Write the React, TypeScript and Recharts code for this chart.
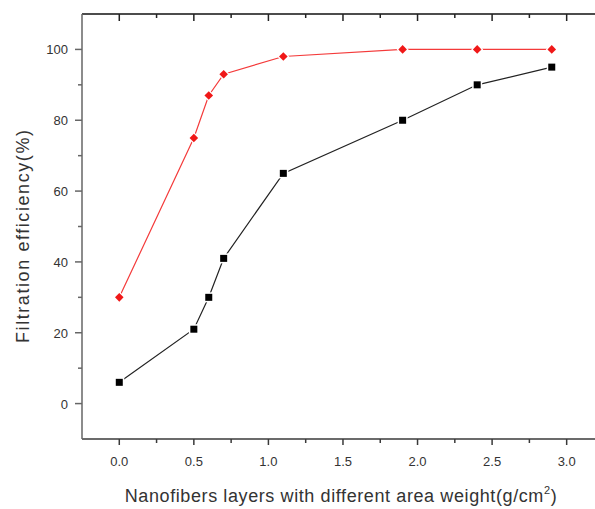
import React from "react";
import { LineChart, Line, XAxis, YAxis } from "recharts";

const areaWeight = [0, 0.5, 0.6, 0.7, 1.1, 1.9, 2.4, 2.9];
const seriesBlack = [6, 21, 30, 41, 65, 80, 90, 95];
const seriesRed = [30, 75, 87, 93, 98, 100, 100, 100];
const xTicks = [0, 0.25, 0.5, 0.75, 1, 1.25, 1.5, 1.75, 2, 2.25, 2.5, 2.75, 3];
const xMajor = [0, 0.5, 1, 1.5, 2, 2.5, 3];
const yTicks = [0, 10, 20, 30, 40, 50, 60, 70, 80, 90, 100];
const yMajor = [0, 20, 40, 60, 80, 100];
const xTitle = "Nanofibers layers with different area weight(g/cm";
const yTitle = "Filtration efficiency(%)";

const data = areaWeight.map((x, i) => ({ x, black: seriesBlack[i], red: seriesRed[i] }));

const FONT = "'Liberation Sans', Arial, sans-serif";
const AXIS = "#3a3a3a";

const isMajor = (list: number[], v: number) => list.some((m) => Math.abs(m - v) < 1e-9);

const BottomTick = (props: any) => {
  const { x, y, payload } = props;
  const major = isMajor(xMajor, payload.value);
  return (
    <g>
      <line x1={x} x2={x} y1={y} y2={y + (major ? 6 : 4)} stroke={AXIS} strokeWidth={1.5} />
      {major && (
        <text x={x} y={y + 27} textAnchor="middle" fontSize={13} fontFamily={FONT} fill="#333">
          {payload.value.toFixed(1)}
        </text>
      )}
    </g>
  );
};

const TopTick = (props: any) => {
  const { x, payload } = props;
  const major = isMajor(xMajor, payload.value);
  return <line x1={x} x2={x} y1={14} y2={14 + (major ? 7 : 4)} stroke="#222" strokeWidth={1.5} />;
};

const LeftTick = (props: any) => {
  const { x, y, payload } = props;
  const major = isMajor(yMajor, payload.value);
  return (
    <g>
      <line x1={x} x2={x - (major ? 7 : 4)} y1={y} y2={y} stroke="#666" strokeWidth={1.5} />
      {major && (
        <text x={x - 14} y={y + 5} textAnchor="end" fontSize={13} fontFamily={FONT} fill="#333">
          {payload.value}
        </text>
      )}
    </g>
  );
};

const Square = (props: any) => {
  const { cx, cy, index } = props;
  if (cx == null || cy == null) return <g key={`s${index}`} />;
  return (
    <g key={`s${index}`}>
      <rect x={cx - 5} y={cy - 5} width={10} height={10} fill="#fff" />
      <rect x={cx - 3.5} y={cy - 3.5} width={7} height={7} fill="#000" />
    </g>
  );
};

const Diamond = (props: any) => {
  const { cx, cy, index } = props;
  if (cx == null || cy == null) return <g key={`d${index}`} />;
  const r = 4.3;
  const R = 6;
  return (
    <g key={`d${index}`}>
      <polygon points={`${cx},${cy - R} ${cx + R},${cy} ${cx},${cy + R} ${cx - R},${cy}`} fill="#fff" />
      <polygon points={`${cx},${cy - r} ${cx + r},${cy} ${cx},${cy + r} ${cx - r},${cy}`} fill="#f01818" />
    </g>
  );
};

const XTitle = () => (
  <text x={341} y={502} textAnchor="middle" fontSize={18} fontFamily={FONT} fill="#333" letterSpacing={0.6}>
    {xTitle}
    <tspan dy={-8} fontSize={11}>2</tspan>
    <tspan dy={8}>)</tspan>
  </text>
);

const YTitle = () => (
  <text
    x={0}
    y={0}
    transform="translate(29,236.5) rotate(-90)"
    textAnchor="middle"
    fontSize={18}
    fontFamily={FONT}
    fill="#333"
    textLength={213}
    lengthAdjust="spacing"
  >
    {yTitle}
  </text>
);

export default function App() {
  return (
    <div style={{ position: "absolute", left: 0, top: 0, background: "#fff" }}>
      <LineChart width={595} height={509} data={data} margin={{ top: 4, right: 0, bottom: 0, left: 0 }}>
        <XAxis
          dataKey="x"
          type="number"
          domain={[-0.25, 3.19]}
          ticks={xTicks}
          interval={0}
          allowDataOverflow
          height={70}
          tickSize={0}
          tickMargin={0}
          tickLine={false}
          tick={<BottomTick />}
          axisLine={{ stroke: AXIS, strokeWidth: 1.5 }}
          label={<XTitle />}
        />
        <XAxis
          xAxisId="top"
          dataKey="x"
          type="number"
          orientation="top"
          domain={[-0.25, 3.19]}
          ticks={xTicks}
          interval={0}
          allowDataOverflow
          height={10}
          tickSize={0}
          tickMargin={0}
          tickLine={false}
          tick={<TopTick />}
          axisLine={{ stroke: "#111", strokeWidth: 1.5 }}
        />
        <YAxis
          type="number"
          domain={[-10, 110]}
          ticks={yTicks}
          interval={0}
          allowDataOverflow
          width={82}
          tickSize={0}
          tickMargin={0}
          tickLine={false}
          tick={<LeftTick />}
          axisLine={{ stroke: "#666", strokeWidth: 1.5 }}
          label={<YTitle />}
        />
        <Line
          xAxisId="top"
          dataKey="red"
          stroke="none"
          dot={false}
          activeDot={false}
          legendType="none"
          isAnimationActive={false}
        />
        <Line
          dataKey="black"
          stroke="#222"
          strokeWidth={1.2}
          dot={Square}
          activeDot={false}
          isAnimationActive={false}
        />
        <Line
          dataKey="red"
          stroke="#f43a3a"
          strokeWidth={1.2}
          dot={Diamond}
          activeDot={false}
          isAnimationActive={false}
        />
      </LineChart>
    </div>
  );
}
